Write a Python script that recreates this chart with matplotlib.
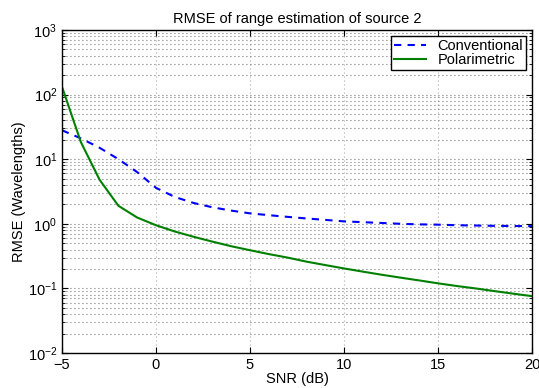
import matplotlib
matplotlib.use("Agg")
import matplotlib.pyplot as plt
import numpy as np

snr = [-5, -4, -3, -2, -1, 0, 1, 2, 3, 4, 5, 6, 7, 8, 9, 10,
       11, 12, 13, 14, 15, 16, 17, 18, 19, 20]
rmse_conv = [28, 21, 15, 10, 6.3, 3.6, 2.6, 2.1, 1.8, 1.6, 1.45, 1.36, 1.28, 1.21, 1.15, 1.09,
             1.06, 1.03, 1.0, 0.98, 0.97, 0.95, 0.94, 0.93, 0.925, 0.92]
rmse_pol = [132, 18.5, 4.8, 1.9, 1.25, 0.95, 0.76, 0.63, 0.53, 0.45, 0.39, 0.34, 0.3, 0.26, 0.23, 0.204,
            0.182, 0.163, 0.147, 0.133, 0.12, 0.109, 0.1, 0.091, 0.083, 0.076]

plt.rcParams['font.family'] = ['Liberation Sans', 'DejaVu Sans']
plt.rcParams['font.size'] = 10.5

fig = plt.figure(figsize=(5.39, 3.88), dpi=100)
ax = fig.add_axes([0.115, 0.090, 0.872, 0.833])

ax.semilogy(snr, rmse_conv, '--', color=(0, 0, 1), lw=1.5, label='Conventional', dashes=(3.5, 3))
ax.semilogy(snr, rmse_pol, '-', color=(0, 0.5, 0), lw=1.5, label='Polarimetric')

ax.set_xlim(-5, 20)
ax.set_ylim(1e-2, 1e3)
ax.set_xticks([-5, 0, 5, 10, 15, 20])
ax.set_xticklabels(['\u22125', '0', '5', '10', '15', '20'])

ax.grid(True, which='major', axis='x', linestyle=(0, (0.8, 2.8)), color='0.6', lw=0.8)
ax.grid(True, which='major', axis='y', linestyle=(0, (0.8, 2.8)), color='0.35', lw=0.8)
ax.grid(True, which='minor', axis='y', linestyle=(0, (0.8, 2.8)), color='0.35', lw=0.8)
ax.tick_params(which='both', direction='in', top=True, right=True, labelsize=10.5)
ax.tick_params(which='major', length=4)
ax.tick_params(which='minor', length=2)
for s in ax.spines.values():
    s.set_linewidth(1.0)

ax.set_title('RMSE of range estimation of source 2', fontsize=10.5, pad=5)
ax.set_xlabel('SNR (dB)', labelpad=0)
ax.set_ylabel('RMSE (Wavelengths)', labelpad=1)

leg = ax.legend(loc='upper right', fancybox=False, framealpha=1, edgecolor='black',
                borderaxespad=0.4, handlelength=2.2, borderpad=0.2, labelspacing=0.05,
                handletextpad=0.8)
leg.get_frame().set_linewidth(1.0)

fig.savefig('out.png', dpi=100)
